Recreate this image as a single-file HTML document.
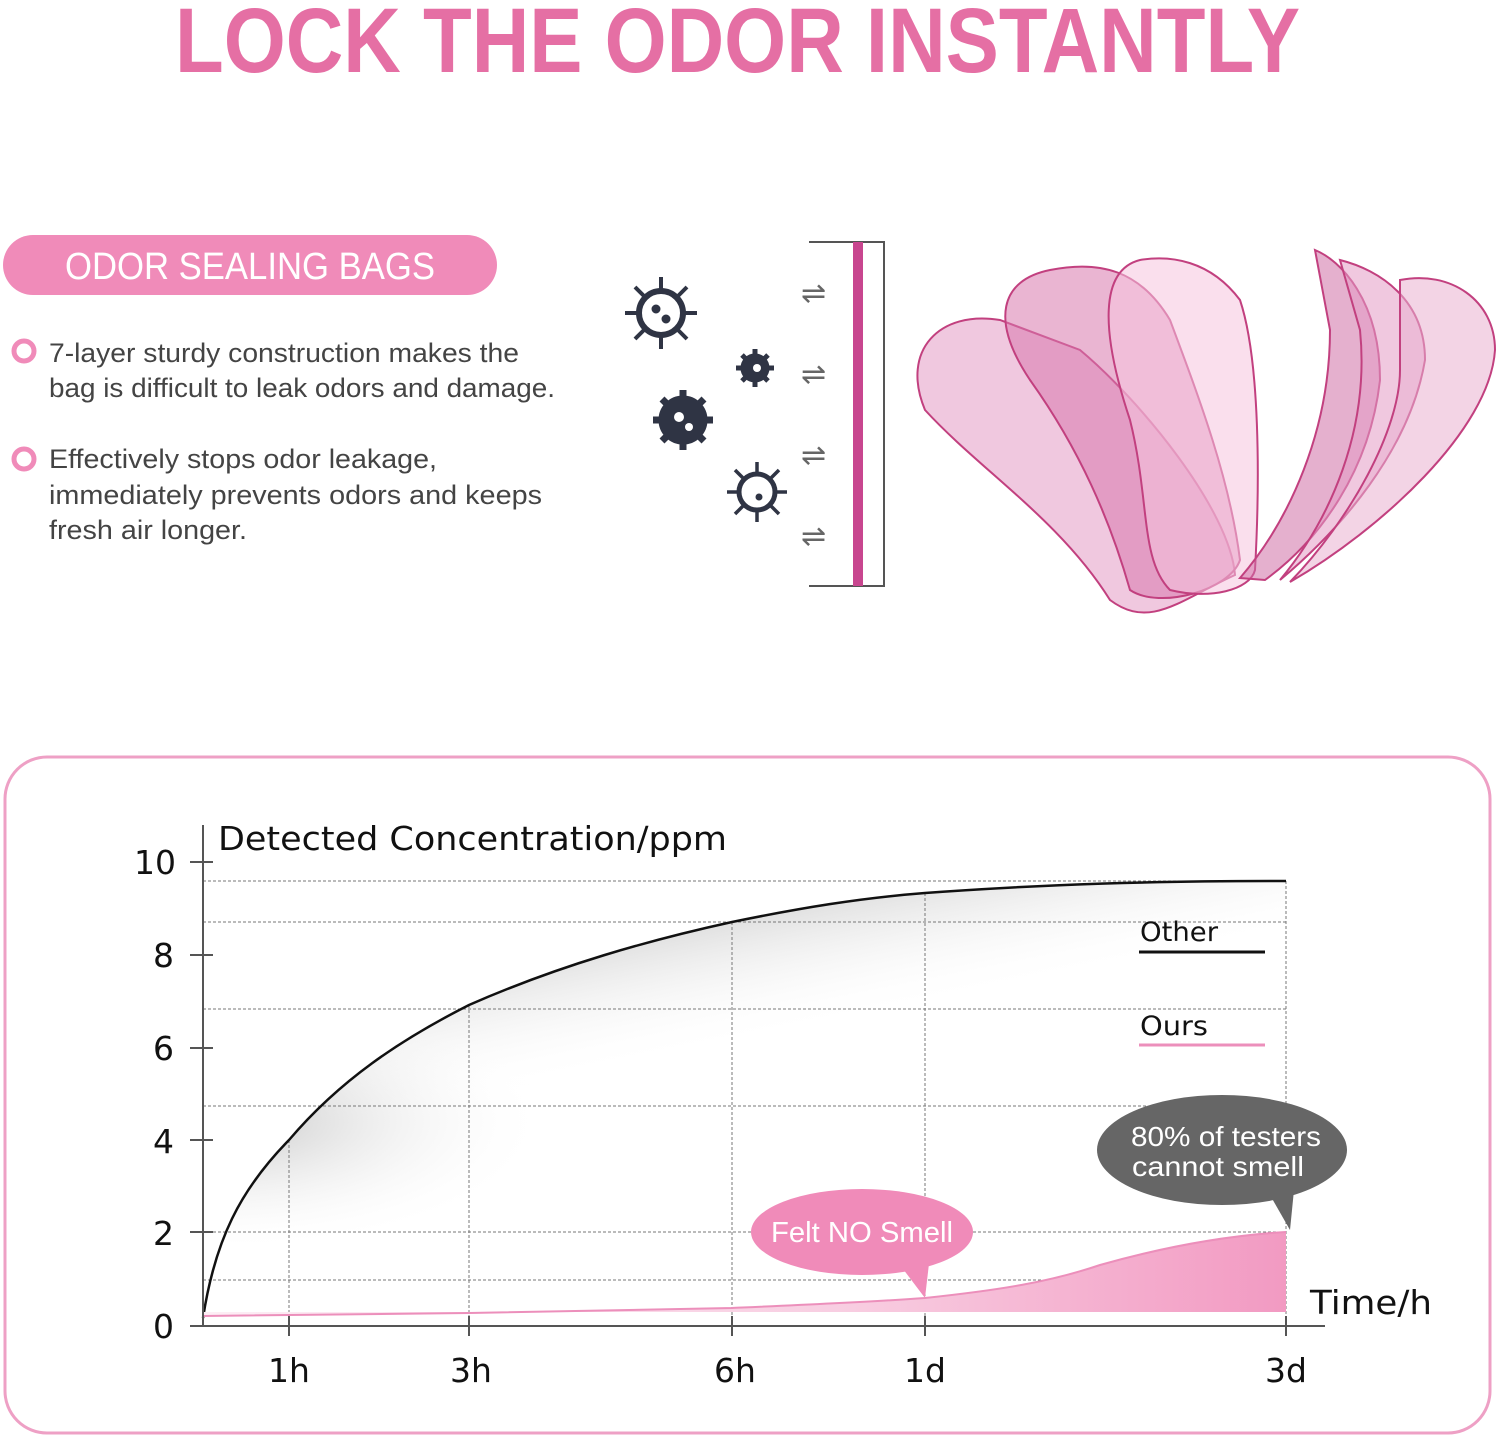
<!DOCTYPE html>
<html><head><meta charset="utf-8"><style>
html,body{margin:0;padding:0;background:#fff;}
svg{display:block;font-family:"Liberation Sans",sans-serif;}
</style></head><body>
<svg width="1500" height="1439" viewBox="0 0 1500 1439" xmlns="http://www.w3.org/2000/svg">
<defs>
<linearGradient id="gg2" x1="0" y1="0" x2="0.5" y2="1">
<stop offset="0" stop-color="#6a6a6a" stop-opacity="0.95"/><stop offset="0.5" stop-color="#fff" stop-opacity="0"/>
</linearGradient>
<radialGradient id="gl" cx="0.02" cy="0.55" r="0.3">
<stop offset="0" stop-color="#999" stop-opacity="0.55"/><stop offset="1" stop-color="#fff" stop-opacity="0"/>
</radialGradient>
<linearGradient id="pg" x1="0" y1="0" x2="1" y2="0">
<stop offset="0" stop-color="#fdeef5"/><stop offset="0.6" stop-color="#f8cde1"/><stop offset="1" stop-color="#f29ac2"/>
</linearGradient>
</defs>
<text x="175" y="72" font-size="92" font-weight="bold" fill="#e56fa4" textLength="1125" lengthAdjust="spacingAndGlyphs">LOCK THE ODOR INSTANTLY</text>
<rect x="3" y="235" width="494" height="60" rx="30" fill="#f08bb9"/>
<text x="65" y="279" font-size="38" fill="#fff" textLength="370" lengthAdjust="spacingAndGlyphs">ODOR SEALING BAGS</text>
<circle cx="24" cy="351" r="10" fill="none" stroke="#f08bb9" stroke-width="5"/>
<circle cx="24" cy="459" r="10" fill="none" stroke="#f08bb9" stroke-width="5"/>
<g font-size="27" fill="#444">
<text x="49" y="362" textLength="470" lengthAdjust="spacingAndGlyphs">7-layer sturdy construction makes the</text>
<text x="49" y="397" textLength="506" lengthAdjust="spacingAndGlyphs">bag is difficult to leak odors and damage.</text>
<text x="49" y="468" textLength="388" lengthAdjust="spacingAndGlyphs">Effectively stops odor leakage,</text>
<text x="49" y="504" textLength="493" lengthAdjust="spacingAndGlyphs">immediately prevents odors and keeps</text>
<text x="49" y="539" textLength="198" lengthAdjust="spacingAndGlyphs">fresh air longer.</text>
</g>
<g fill="#2f3444" stroke="#2f3444">
<g transform="translate(661,313)"><circle r="22" fill="none" stroke-width="6"/><g stroke-width="4"><line x1="0" y1="-24" x2="0" y2="-36"/><line x1="0" y1="24" x2="0" y2="36"/><line x1="-24" y1="0" x2="-36" y2="0"/><line x1="24" y1="0" x2="36" y2="0"/><line x1="17" y1="17" x2="26" y2="26"/><line x1="-17" y1="17" x2="-26" y2="26"/><line x1="17" y1="-17" x2="26" y2="-26"/><line x1="-17" y1="-17" x2="-26" y2="-26"/></g><circle cx="-5" cy="-4" r="4"/><circle cx="5" cy="6" r="4"/></g>
<g transform="translate(683,420)"><circle r="24"/><g stroke-width="7"><line x1="0" y1="-30" x2="0" y2="30"/><line x1="-30" y1="0" x2="30" y2="0"/><line x1="-21" y1="-21" x2="21" y2="21"/><line x1="-21" y1="21" x2="21" y2="-21"/></g><circle cx="-4" cy="-3" r="5" fill="#fff" stroke="none"/><circle cx="6" cy="7" r="4" fill="#fff" stroke="none"/></g>
<g transform="translate(755,368)"><circle r="14"/><g stroke-width="5"><line x1="0" y1="-19" x2="0" y2="19"/><line x1="-19" y1="0" x2="19" y2="0"/><line x1="-13" y1="-13" x2="13" y2="13"/><line x1="-13" y1="13" x2="13" y2="-13"/></g><circle cx="2" cy="0" r="4" fill="#fff" stroke="none"/></g>
<g transform="translate(757,492)"><circle r="18" fill="none" stroke-width="5"/><g stroke-width="3.5"><line x1="0" y1="-20" x2="0" y2="-30"/><line x1="0" y1="20" x2="0" y2="30"/><line x1="-20" y1="0" x2="-30" y2="0"/><line x1="20" y1="0" x2="30" y2="0"/><line x1="14" y1="14" x2="22" y2="22"/><line x1="-14" y1="14" x2="-22" y2="22"/><line x1="14" y1="-14" x2="22" y2="-22"/><line x1="-14" y1="-14" x2="-22" y2="-22"/></g><circle cx="2" cy="5" r="3"/></g>
</g>
<g font-size="30" fill="#666"><text x="801" y="303">⇌</text><text x="801" y="384">⇌</text><text x="801" y="465">⇌</text><text x="801" y="546">⇌</text></g>
<path d="M809 242H884V586H809" fill="none" stroke="#555" stroke-width="2"/>
<rect x="853" y="242" width="10" height="344" fill="#c8468f"/>
<g fill-opacity="0.55" stroke="#c2407f" stroke-width="2">
<path d="M1000 320C940 310 900 350 925 410C980 470 1060 520 1110 600C1150 630 1180 600 1235 575C1230 510 1140 400 1080 350Z" fill="#e39ac4"/>
<path d="M1050 270C1000 280 990 320 1030 380C1080 450 1110 520 1130 590C1160 610 1230 590 1240 560C1230 480 1200 400 1170 320C1140 270 1100 260 1050 270Z" fill="#d878ad"/>
<path d="M1140 260C1100 270 1100 330 1130 420C1150 500 1140 560 1170 590C1210 600 1250 590 1255 570C1260 480 1260 360 1240 300C1210 260 1170 255 1140 260Z" fill="#f6c4de"/>
<path d="M1315 250C1340 260 1380 300 1380 380C1370 470 1320 540 1265 580L1240 578C1290 520 1330 430 1330 330Z" fill="#d070a5"/>
<path d="M1340 260C1380 270 1425 300 1425 360C1410 450 1340 530 1280 580C1330 520 1370 430 1360 330Z" fill="#e39ac4"/>
<path d="M1400 280C1450 270 1495 300 1495 350C1490 430 1380 530 1290 582C1350 520 1400 430 1400 370Z" fill="#eab0d0"/>
</g>
<rect x="5" y="757" width="1485" height="676" rx="42" fill="none" stroke="#eea0c5" stroke-width="3"/>
<path d="M203 1318C215 1240 240 1190 289 1140C340 1080 400 1040 469 1005C560 965 650 940 732 922C800 908 860 898 925 893C1050 884 1150 881 1286 881V1312H203Z" fill="url(#gg2)"/>
<path d="M203 1318C215 1240 240 1190 289 1140C340 1080 400 1040 469 1005C560 965 650 940 732 922C800 908 860 898 925 893C1050 884 1150 881 1286 881V1312H203Z" fill="url(#gl)"/>
<g stroke="#777" stroke-width="1" stroke-dasharray="3,2" fill="none">
<path d="M203 881H1286M203 922H1286M203 1009H1286M203 1106H1286M203 1232H1286M203 1280H1286"/>
<path d="M289 1140V1326M469 1005V1326M732 922V1326M925 893V1326M1286 881V1326"/>
</g>
<path d="M203 1318C215 1240 240 1190 289 1140C340 1080 400 1040 469 1005C560 965 650 940 732 922C800 908 860 898 925 893C1050 884 1150 881 1286 881" fill="none" stroke="#111" stroke-width="2.5"/>
<path d="M203 1316L469 1313L732 1308C800 1305 870 1302 925 1298C1000 1290 1050 1282 1100 1265C1160 1248 1220 1236 1286 1232V1312H203Z" fill="url(#pg)"/>
<path d="M203 1316L469 1313L732 1308C800 1305 870 1302 925 1298C1000 1290 1050 1282 1100 1265C1160 1248 1220 1236 1286 1232" fill="none" stroke="#ec8fbb" stroke-width="2"/>
<g stroke="#555" stroke-width="2" fill="none">
<path d="M203 825V1326M190 1326H1325"/>
<path d="M190 862H213M190 955H213M190 1048H213M190 1140H213M190 1232H213"/>
<path d="M289 1316V1336M469 1316V1336M732 1316V1336M925 1316V1336M1286 1316V1336"/>
</g>
<g font-family="DejaVu Sans, sans-serif" font-size="33" fill="#111">
<text x="218" y="850" textLength="509" lengthAdjust="spacingAndGlyphs">Detected Concentration/ppm</text>
<text x="176" y="874" text-anchor="end">10</text>
<text x="174" y="967" text-anchor="end">8</text>
<text x="174" y="1060" text-anchor="end">6</text>
<text x="174" y="1153" text-anchor="end">4</text>
<text x="174" y="1245" text-anchor="end">2</text>
<text x="174" y="1338" text-anchor="end">0</text>
<text x="289" y="1382" text-anchor="middle">1h</text>
<text x="471" y="1382" text-anchor="middle">3h</text>
<text x="735" y="1382" text-anchor="middle">6h</text>
<text x="925" y="1382" text-anchor="middle">1d</text>
<text x="1286" y="1382" text-anchor="middle">3d</text>
<text x="1310" y="1314" textLength="122" lengthAdjust="spacingAndGlyphs">Time/h</text>
<text x="1140" y="941" font-size="27" textLength="78" lengthAdjust="spacingAndGlyphs">Other</text>
<text x="1140" y="1035" font-size="27" textLength="68" lengthAdjust="spacingAndGlyphs">Ours</text>
</g>
<line x1="1139" y1="952" x2="1265" y2="952" stroke="#111" stroke-width="3"/>
<line x1="1139" y1="1045" x2="1265" y2="1045" stroke="#ec8fbb" stroke-width="3"/>
<ellipse cx="862" cy="1232" rx="111" ry="43" fill="#f08bb9"/>
<path d="M900 1265L925 1298L930 1255Z" fill="#f08bb9"/>
<text x="862" y="1242" text-anchor="middle" font-size="29" fill="#fff" textLength="182" lengthAdjust="spacingAndGlyphs">Felt NO Smell</text>
<ellipse cx="1222" cy="1150" rx="125" ry="55" fill="#666"/>
<path d="M1270 1195L1290 1230L1295 1180Z" fill="#666"/>
<text x="1226" y="1146" text-anchor="middle" font-size="28" fill="#fff" textLength="190" lengthAdjust="spacingAndGlyphs">80% of testers</text>
<text x="1218" y="1176" text-anchor="middle" font-size="28" fill="#fff" textLength="172" lengthAdjust="spacingAndGlyphs">cannot smell</text>
</svg>
</body></html>
